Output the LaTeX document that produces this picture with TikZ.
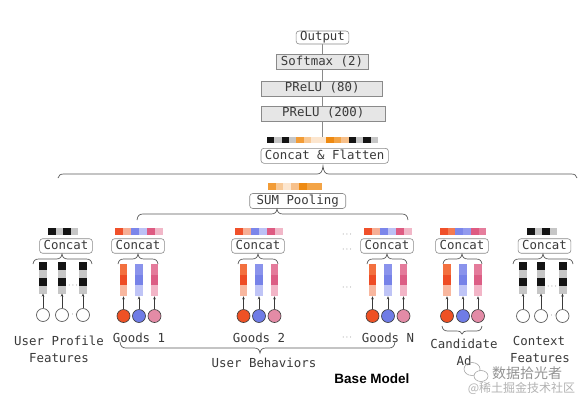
\documentclass[tikz,border=0pt]{standalone}
\usepackage{fontspec}
\usetikzlibrary{arrows.meta}
\newfontfamily\monof{DejaVu Sans Mono}
\newfontfamily\sansb{Liberation Sans}
\newfontfamily\cjkf{Noto Sans CJK SC}
\definecolor{txt}{HTML}{3A3A3A}
\definecolor{bordc}{HTML}{8A8A8A}
\definecolor{boxgrey}{HTML}{E6E6E6}
\definecolor{kk}{HTML}{141414}
\definecolor{kg}{HTML}{C6C6C6}
% orange cells
\definecolor{oa}{HTML}{F29C36}
\definecolor{ob}{HTML}{F8C996}
\definecolor{oc}{HTML}{FCE6CF}
\definecolor{od}{HTML}{EE8A12}
\definecolor{oe}{HTML}{F3A446}
\definecolor{of}{HTML}{F7C08A}
% goods bar
\definecolor{gr1}{HTML}{F0502A}
\definecolor{gr2}{HTML}{F6AE95}
\definecolor{gb1}{HTML}{7C86EA}
\definecolor{gb2}{HTML}{BCC1F5}
\definecolor{gp1}{HTML}{DE5B82}
\definecolor{gp2}{HTML}{F1B7C8}
% candidate bar
\definecolor{ca1}{HTML}{F0502A}
\definecolor{ca2}{HTML}{F47A50}
\definecolor{ca3}{HTML}{7C86EA}
\definecolor{ca4}{HTML}{929AEE}
\definecolor{ca5}{HTML}{DE5B82}
\definecolor{ca6}{HTML}{E57D9C}
% columns
\definecolor{co1}{HTML}{F3703F}
\definecolor{co2}{HTML}{EE4C25}
\definecolor{co3}{HTML}{F8B79F}
\definecolor{cb1}{HTML}{8A93EC}
\definecolor{cb2}{HTML}{7682E8}
\definecolor{cb3}{HTML}{BFC4F6}
\definecolor{cp1}{HTML}{E47B9B}
\definecolor{cp2}{HTML}{DC5E85}
\definecolor{cp3}{HTML}{F2B5C7}
% circles
\definecolor{dr}{HTML}{EE5124}
\definecolor{db}{HTML}{6F7CE6}
\definecolor{dp}{HTML}{E38BA6}
\pgfdeclarelayer{back}
\pgfdeclarelayer{bg}
\pgfsetlayers{back,bg,main}
\newcommand{\cellrow}[5]{\foreach \cc [count=\ii from 0] in {#5} {\fill[\cc] ({#1+\ii*#3},{#2}) rectangle ++(#3,#4);}}
\newcommand{\colcells}[5]{\foreach \cc [count=\ii from 0] in {#5} {\fill[\cc] ({#1-#3/2},{#2+\ii*#4}) rectangle ++(#3,#4);}}
\newcommand{\hbrace}[6]{\draw[brc] ({#1},{#3+(#5)}) .. controls ({#1+0.6},{#3+0.25*(#5)}) and ({#1+2.5},{#3}) .. ({#1+6},{#3}) -- ({#4-6},{#3}) .. controls ({#4-2.5},{#3}) and ({#4-0.6},{#3-0.25*(#6)}) .. ({#4},{#3-(#6)}) .. controls ({#4+0.6},{#3-0.25*(#6)}) and ({#4+2.5},{#3}) .. ({#4+6},{#3}) -- ({#2-6},{#3}) .. controls ({#2-2.5},{#3}) and ({#2-0.6},{#3+0.25*(#5)}) .. ({#2},{#3+(#5)});}
\newcommand{\goodsgroup}[3]{%
 \cellrow{#2-24}{228}{8}{7}{gr1,gr2,gb1,gb2,gp1,gp2}
 \node[rbox] (#1cat) at ({#2-1},246) {Concat};
 \hbrace{#2-21}{#2+19}{259}{#2-1}{5}{5}
 \colcells{#2-15.5}{264}{7.5}{10.7}{co1,co2,co3}
 \colcells{#2}{264}{7.5}{10.7}{cb1,cb2,cb3}
 \colcells{#2+15.5}{264}{7.5}{10.7}{cp1,cp2,cp3}
 \coordinate (#1k1) at ({#2-15.5},296.3);
 \coordinate (#1k2) at ({#2},296.3);
 \coordinate (#1k3) at ({#2+15.5},296.3);
 \node[gcirc, fill=dr] (#1o1) at ({#2-15.5},316) {};
 \node[gcirc, fill=db] (#1o2) at ({#2},316) {};
 \node[gcirc, fill=dp] (#1o3) at ({#2+15.5},316) {};
 \draw[arr] (#1o1) -- (#1k1);
 \draw[arr] (#1o2) -- (#1k2);
 \draw[arr] (#1o3) -- (#1k3);
 \node[lbl, anchor=base] (#1lab) at ({#2},342) {#3};
}
\begin{document}
\begin{tikzpicture}[x=1pt,y=-1pt,
  lbl/.style={font=\monof\fontsize{12.4}{14}\selectfont, text=txt, inner sep=0pt},
  rbox/.style={lbl, draw=bordc, line width=0.6pt, rounded corners=3pt, fill=white,
     minimum height=14.5pt, inner xsep=4pt, text height=9pt, text depth=2.3pt},
  gbox/.style={lbl, draw=bordc, line width=0.6pt, fill=boxgrey,
     minimum height=15pt, text height=9pt, text depth=2.5pt},
  brc/.style={draw=txt!85, line width=0.7pt},
  vline/.style={draw=bordc, line width=0.7pt},
  arr/.style={draw=txt, line width=0.5pt, -{Stealth[length=3pt,width=2.6pt]}},
  gcirc/.style={circle, draw=txt, line width=0.6pt, minimum size=13pt, inner sep=0pt},
  wcirc/.style={circle, draw=txt!80, line width=0.7pt, fill=white, minimum size=13pt, inner sep=0pt},
  dts/.style={font=\fontsize{8}{8}\selectfont, text=txt, inner sep=0pt},
]
\useasboundingbox (0,0) rectangle (581,400);
\begin{pgfonlayer}{back}
\fill[white] (0,0) rectangle (581,400);
\end{pgfonlayer}

% ---- top tower ----
\node[rbox, minimum height=13pt] (out) at (322.5,37.5) {Output};
\node[gbox, minimum width=92pt] (soft) at (322,62) {Softmax (2)};
\node[gbox, minimum width=121pt] (pr80) at (322.2,88.5) {PReLU (80)};
\node[gbox, minimum width=124pt] (pr200) at (323.3,113.5) {PReLU (200)};
\cellrow{266.7}{136.7}{7.44}{6}{kk,kg,kk,kg,oa,ob,oc,oc,od,oe,of,kk,kg,kk,kg}
\coordinate (cfbar) at (322.5,136.7);
\begin{pgfonlayer}{bg}
\draw[vline] (out) -- (cfbar);
\end{pgfonlayer}
\node[rbox, minimum width=126pt, minimum height=15pt] (cf) at (324.7,155.8) {Concat \& Flatten};

% big brace
\hbrace{58}{577}{174}{323}{4}{8}

% ---- SUM pooling ----
\cellrow{268}{183}{7.7}{7}{oa,ob,oc,of,od,oe,oe}
\node[rbox, minimum width=96pt, minimum height=15pt] (sum) at (297.7,201) {SUM Pooling};
\hbrace{137}{408}{214}{277}{6}{5}

% ---- user profile ----
\cellrow{48}{228}{7.5}{7}{kk,kg,kk,kg}
\node[rbox] (upcat) at (66,246) {Concat};
\hbrace{33}{92}{259}{62}{5}{5}
\colcells{43}{262}{8}{7.9}{kk,kg,kk,kg}
\colcells{62}{262}{8}{7.9}{kk,kg,kk,kg}
\colcells{83}{262}{8}{7.9}{kk,kg,kk,kg}
\coordinate (upk1) at (43,293.6);
\coordinate (upk2) at (62,293.6);
\coordinate (upk3) at (83,293.6);
\node[wcirc] (upo1) at (43,315) {};
\node[wcirc] (upo2) at (62,315) {};
\node[wcirc] (upo3) at (83,315) {};
\draw[arr] (upo1) -- (upk1);
\draw[arr] (upo2) -- (upk2);
\draw[arr] (upo3) -- (upk3);
\node[dts] (updA) at (73,286) {$\cdots$};
\node[dts] (updB) at (72.5,315) {$\cdots$};
\node[lbl, anchor=base] (uplab1) at (59,345) {User Profile};
\node[lbl, anchor=base] (uplab2) at (59,362) {Features};

% ---- goods ----
\goodsgroup{ga}{139}{Goods 1}
\goodsgroup{gb}{259}{Goods 2}
\goodsgroup{gn}{388}{Goods N}
\node[dts] (dA) at (347,235) {$\cdots$};
\node[dts] (dB) at (347,250) {$\cdots$};
\node[dts] (dC) at (347,288) {$\cdots$};
\node[dts] (dD) at (347,338) {$\cdots$};
\hbrace{120}{395}{348}{260}{-6}{-5}
\node[lbl, anchor=base] (ub) at (264,367) {User Behaviors};

% ---- candidate ad ----
\cellrow{440}{228}{7.7}{7}{ca1,ca2,ca3,ca4,ca5,ca6}
\node[rbox] (cacat) at (462,246) {Concat};
\hbrace{443}{482}{259}{462}{5}{5}
\colcells{447}{264}{7.5}{10.7}{co1,co2,co3}
\colcells{463}{264}{7.5}{10.7}{cb1,cb2,cb3}
\colcells{478}{264}{7.5}{10.7}{cp1,cp2,cp3}
\coordinate (cak1) at (447,296.3);
\coordinate (cak2) at (463,296.3);
\coordinate (cak3) at (478,296.3);
\node[gcirc, fill=dr] (cao1) at (447,316) {};
\node[gcirc, fill=db] (cao2) at (463,316) {};
\node[gcirc, fill=dp] (cao3) at (478,316) {};
\draw[arr] (cao1) -- (cak1);
\draw[arr] (cao2) -- (cak2);
\draw[arr] (cao3) -- (cak3);
\hbrace{442}{482}{331}{462}{-5}{-3}
\node[lbl, anchor=base] (calab1) at (464,348) {Candidate};
\node[lbl, anchor=base] (calab2) at (464,365) {Ad};

% ---- context ----
\cellrow{527}{228}{7.5}{7}{kk,kg,kk,kg}
\node[rbox] (cxcat) at (544.5,246) {Concat};
\hbrace{513}{573}{259}{543}{5}{5}
\colcells{523}{262}{8}{7.9}{kk,kg,kk,kg}
\colcells{541}{262}{8}{7.9}{kk,kg,kk,kg}
\colcells{562.5}{262}{8}{7.9}{kk,kg,kk,kg}
\coordinate (cxk1) at (523,293.6);
\coordinate (cxk2) at (541,293.6);
\coordinate (cxk3) at (562.5,293.6);
\node[wcirc] (cxo1) at (523,316) {};
\node[wcirc] (cxo2) at (541,316) {};
\node[wcirc] (cxo3) at (562.5,316) {};
\draw[arr] (cxo1) -- (cxk1);
\draw[arr] (cxo2) -- (cxk2);
\draw[arr] (cxo3) -- (cxk3);
\node[dts] (cxdA) at (552,287) {$\cdots$};
\node[dts] (cxdB) at (551.5,316) {$\cdots$};
\node[lbl, anchor=base] (cxlab1) at (539,345) {Context};
\node[lbl, anchor=base] (cxlab2) at (540,362) {Features};

% ---- base model ----
\node[font=\sansb\bfseries\fontsize{13.5}{14}\selectfont, text=black, inner sep=0pt, anchor=base] (bm) at (372,383.3) {Base Model};

% ---- watermark ----
\draw[gray!70, line width=0.6pt] (472,369) ellipse [x radius=8, y radius=6.5];
\draw[gray!70, line width=0.6pt, fill=white] (481,376) ellipse [x radius=7, y radius=5.5];
\node[font=\cjkf\fontsize{14}{15}\selectfont, text=gray!85, inner sep=0pt] (wm1) at (527,373) {数据拾光者};
\node[font=\cjkf\fontsize{12}{13}\selectfont, text=gray!60, inner sep=0pt] (wm2) at (521.5,388.5) {@稀土掘金技术社区};
\end{tikzpicture}
\end{document}
